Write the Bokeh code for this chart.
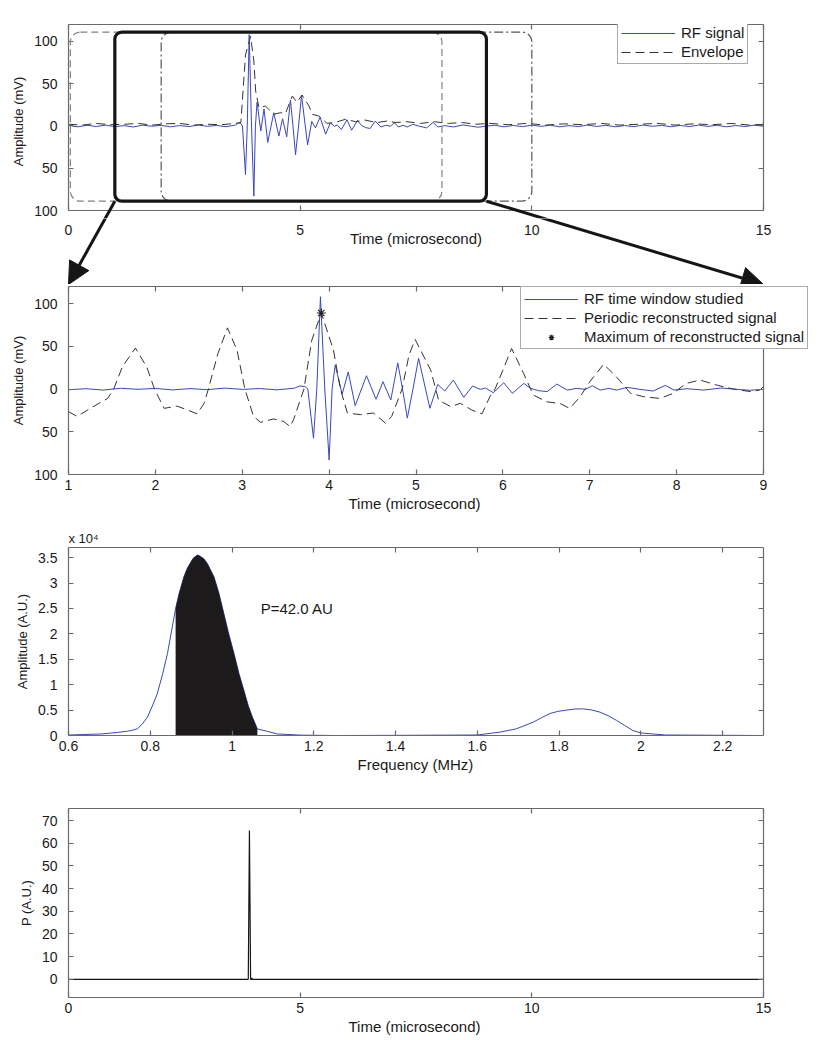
from bokeh.plotting import figure
from bokeh.layouts import column
from bokeh.models import (BoxAnnotation, Arrow, NormalHead, Legend, LegendItem,
                          LinearAxis, FixedTicker, Label, Range1d, Title)
from bokeh.embed import file_html
from bokeh.resources import INLINE

# ---------------- data ----------------
# RF signal (time in microseconds, amplitude in mV)
rf_t = [0.0, 0.2, 0.4, 0.6, 0.8, 1.0, 1.2, 1.4, 1.6, 1.8, 2.0, 2.2, 2.4, 2.6, 2.8, 3.0, 3.2, 3.4,
        3.6, 3.66, 3.72, 3.755, 3.82, 3.858, 3.90, 3.95, 4.00, 4.034,
        4.07, 4.15, 4.22, 4.30, 4.43, 4.54, 4.62, 4.71, 4.79, 4.845,
        4.90, 4.965, 5.03, 5.16, 5.25, 5.33, 5.43, 5.55, 5.65, 5.74,
        5.80, 5.89, 6.01, 6.11, 6.24, 6.32, 6.41, 6.51, 6.62, 6.74,
        6.85, 6.95, 7.03, 7.12, 7.22, 7.31, 7.43, 7.58, 7.73, 7.87,
        7.97, 8.12, 8.31, 8.51, 8.70, 8.85, 8.98,
        9.2, 9.4, 9.6, 9.8, 10.0, 10.2, 10.4, 10.6, 10.8, 11.0, 11.2, 11.4, 11.6, 11.8, 12.0,
        12.2, 12.4, 12.6, 12.8, 13.0, 13.2, 13.4, 13.6, 13.8, 14.0, 14.2, 14.4, 14.6, 14.8, 15.0]
rf_a = [0.5, -1, 0.8, -0.6, 1, -0.8, 0.4, -1.2, 0.9, -0.3, 0.7, -1, 0.5, -0.7, 1.1, -0.4, 0.6, -0.9,
        1.0, 3.5, 3, 0, -57.6, 0, 108, 0, -83, 0,
        28, -6, 20, -19.5, 15.6, -12, 8.6, -12.8, 30.7, 0,
        -34, 0, 36, -22.5, 5.4, -2.3, 10.5, -9.7, 3.5, -0.4,
        1.2, -4.3, 7.4, -5, 6.6, 0.8, -1.9, -3, 5.8, -1.2,
        0.8, -0.4, 3.9, -1.2, 0.8, -1.2, 1.9, -0.4, -2.3, 4.3,
        -1.2, 0.4, -1.2, 1.2, -0.4, -1.5, -0.4,
        0.8, -1, 0.6, -0.8, 1, -0.5, 0.9, -1, 0.4, -0.7, 1, -0.6, 0.8, -1, 0.5,
        -0.8, 1, -0.4, 0.7, -0.9, 0.6, -0.7, 1, -0.5, 0.8, -1, 0.5, -0.6, 0.9, -0.3]

# Envelope of the RF signal
env_t = [0, 0.3, 0.6, 0.9, 1.2, 1.5, 1.8, 2.1, 2.4, 2.7, 3.0, 3.3, 3.6, 3.72, 3.82, 3.93, 4.00,
         4.04, 4.11, 4.25, 4.43, 4.58, 4.68, 4.83, 4.93, 5.04, 5.19, 5.26, 5.40, 5.58, 5.75,
         5.98, 6.2, 6.4, 6.65, 6.9, 7.05, 7.3, 7.6, 7.9, 8.2, 8.5, 8.8, 9.1, 9.5, 9.9, 10.3,
         10.7, 11.1, 11.5, 11.9, 12.3, 12.7, 13.1, 13.5, 13.9, 14.3, 14.7, 15]
env_a = [2, 1, 3, 1.5, 2, 3, 1, 2.5, 3, 1, 2, 1.5, 3, 4, 84, 106, 77,
         41, 21.7, 23.6, 13.8, 15.7, 14.5, 35.4, 28, 36.6, 23.6, 13.8, 11.8, 3.1, 4,
         8, 5, 7, 4, 6, 4, 5, 3, 5, 3, 4, 2, 3, 1.5, 3, 1,
         2.5, 1.5, 3, 1, 2, 3, 1, 2.5, 1.5, 3, 1, 2]

# Sliding time windows (microseconds) and their vertical extent (mV)
win_left = [0.04, 1.0, 2.0]
win_right = [8.06, 9.02, 10.0]
win_top = 111
win_bottom = -89
studied = (1, 9)

# Periodic reconstructed signal
per_t = [1.0, 1.10, 1.25, 1.45, 1.52, 1.62, 1.77, 1.90, 1.99, 2.10,
         2.25, 2.37, 2.48, 2.56, 2.61, 2.72, 2.83, 2.94, 3.03, 3.13,
         3.21, 3.36, 3.48, 3.55, 3.59, 3.71, 3.80, 3.91, 4.05, 4.13,
         4.21, 4.36, 4.51, 4.65, 4.72, 4.84, 4.92, 4.99, 5.17, 5.26,
         5.40, 5.51, 5.64, 5.76, 5.85, 5.91, 6.00, 6.10, 6.24, 6.35,
         6.51, 6.66, 6.77, 6.89, 7.00, 7.16, 7.31, 7.47, 7.62, 7.81,
         7.96, 8.11, 8.27, 8.46, 8.65, 8.85, 8.96, 9.0]
per_a = [-26.5, -32, -22.6, -11, 0, 26, 48, 26, 0, -22.6,
         -20, -24.5, -29, -17, 0, 41.6, 71.6, 45.5, 0, -32,
         -39, -35, -38, -44, -36, 0, 57, 89, 45.5, 0,
         -28, -30, -28, -40, -32, 0, 40, 58, 22, -13,
         -20.6, -16.7, -24.5, -29, -9, 0, 22, 47.5, 18, -7,
         -15, -17, -22.6, -9, 8.5, 29, 14, -5, -9, -11,
         -5, 6.6, 10.5, 4.7, 0, -3, -1, 3]
max_t = [3.91]
max_a = [89]

# Spectrum (frequency MHz, amplitude in units of 1e4 A.U.)
spec_f = [0.6, 0.68, 0.72, 0.744, 0.755, 0.768, 0.78, 0.793, 0.805, 0.817,
          0.83, 0.842, 0.862, 0.87, 0.882, 0.89, 0.899, 0.905, 0.915, 0.92,
          0.931, 0.94, 0.956, 0.968, 0.98, 0.992, 1.005, 1.017, 1.029, 1.04,
          1.05, 1.062, 1.087, 1.111, 1.17, 1.25, 1.4, 1.6, 1.655, 1.695,
          1.736, 1.757, 1.777, 1.797, 1.818, 1.837, 1.857, 1.878, 1.9, 1.92,
          1.94, 1.96, 1.98, 2.0, 2.06, 2.3]
spec_a = [0.01, 0.03, 0.06, 0.085, 0.1, 0.13, 0.22, 0.36, 0.58, 0.82,
          1.2, 1.61, 2.5, 2.78, 3.12, 3.28, 3.41, 3.49, 3.55, 3.54,
          3.48, 3.38, 3.12, 2.8, 2.4, 2.0, 1.61, 1.22, 0.89, 0.58,
          0.36, 0.13, 0.08, 0.03, 0.007, 0.0, 0.003, 0.01, 0.066, 0.13,
          0.26, 0.35, 0.43, 0.475, 0.5, 0.52, 0.525, 0.505, 0.46, 0.39,
          0.3, 0.2, 0.1, 0.05, 0.01, 0.0]
band = (0.862, 1.062)
p_text = "P=42.0 AU"
p_text_pos = (1.07, 2.5)

# P over time
p_t = [0, 3.88, 3.905, 3.93, 3.95, 3.96, 3.97, 15]
p_v = [0, 0, 65.6, 0, 0, 0.6, 0, 0]

# ticks
t_ticks = [0, 5, 10, 15]
mv_ticks = [-100, -50, 0, 50, 100]
mv_labels = ["100", "50", "0", "50", "100"]
tw_ticks = [1, 2, 3, 4, 5, 6, 7, 8, 9]
f_ticks = [0.6, 0.8, 1.0, 1.2, 1.4, 1.6, 1.8, 2.0, 2.2]
f_labels = ["0.6", "0.8", "1", "1.2", "1.4", "1.6", "1.8", "2", "2.2"]
s_ticks = [0, 0.5, 1.0, 1.5, 2.0, 2.5, 3.0, 3.5]
s_labels = ["0", "0.5", "1", "1.5", "2", "2.5", "3", "3.5"]
pv_ticks = [0, 10, 20, 30, 40, 50, 60, 70]

# ---------------- style / geometry ----------------
FONT = "Liberation Sans"
GRAY = "#6a6a6a"
TXT = "#1a1a1a"
BLUE = "#3a48b8"
DARK = "#151515"
W = 820
FL, FR = 63, 818        # frame left / right (px)
BXL, BXR = 68, 763      # panel box left / right (px)


def x_range_for(x0, x1):
    k = (BXR - BXL) / (x1 - x0)
    return Range1d(x0 - (BXL - FL) / k, x1 + (FR - BXR) / k)


def tick_axis(ticks, **kw):
    return LinearAxis(ticker=FixedTicker(ticks=ticks), major_label_text_font_size="0px",
                      major_label_overrides={t: "" for t in ticks},
                      major_label_standoff=0, major_tick_in=5, major_tick_out=0,
                      minor_tick_line_color=None, axis_line_color=GRAY, axis_line_width=1.2,
                      major_tick_line_color=GRAY, major_tick_line_width=1.2, **kw)


def label_axis(ax, ticks, labels, standoff):
    ax.ticker = FixedTicker(ticks=ticks)
    if labels is not None:
        ax.major_label_overrides = {k: v for k, v in zip(ticks, labels)}
    ax.minor_tick_line_color = None
    ax.major_label_text_font = FONT
    ax.major_label_text_font_size = "14px"
    ax.major_label_text_color = TXT
    ax.major_label_standoff = standoff


def panel(h, top, bottom, xlim, ylim, yrange, xticks, xlabels, yticks, ylabels, ytitle,
          xtitle=None, xtitle_offset=285):
    p = figure(width=W, height=h, output_backend="svg", toolbar_location=None,
               x_range=x_range_for(*xlim), y_range=yrange,
               min_border_left=FL, min_border_right=W - FR,
               min_border_top=top, min_border_bottom=bottom)
    p.grid.visible = False
    p.outline_line_color = None
    p.background_fill_color = "white"
    p.border_fill_color = "white"
    yl = p.left[0]
    xb = p.below[0]
    # left: labels only, at the frame edge
    label_axis(yl, yticks, ylabels, 0)
    yl.axis_line_color = None
    yl.major_tick_line_color = None
    yl.axis_label = ytitle
    yl.axis_label_text_font = FONT
    yl.axis_label_text_font_size = "13px"
    yl.axis_label_text_font_style = "normal"
    yl.axis_label_text_color = TXT
    yl.axis_label_standoff = 5
    # bottom
    if xtitle is None:
        xb.visible = False
    else:
        label_axis(xb, xticks, xlabels, 5)
        xb.bounds = xlim
        xb.axis_line_color = GRAY
        xb.axis_line_width = 1.2
        xb.major_tick_line_color = GRAY
        xb.major_tick_line_width = 1.2
        xb.major_tick_in = 5
        xb.major_tick_out = 0
    # box edges with inward ticks
    p.add_layout(tick_axis(xticks, bounds=xlim), "above")
    p.add_layout(tick_axis(yticks, bounds=ylim, fixed_location=xlim[0]), "left")
    p.add_layout(tick_axis(yticks, bounds=ylim, fixed_location=xlim[1]), "right")
    if xtitle is None:
        p.add_layout(tick_axis(xticks, bounds=xlim, fixed_location=ylim[0]), "below")
    else:
        p.add_layout(Title(text=xtitle, align="left", offset=xtitle_offset, standoff=0,
                           text_font=FONT, text_font_size="15px", text_font_style="normal",
                           text_color=TXT), "below")
    return p


def style_legend(leg, loc):
    leg.location = loc
    leg.label_text_font = FONT
    leg.label_text_font_size = "15px"
    leg.label_text_color = TXT
    leg.glyph_width = 54
    leg.glyph_height = 14
    leg.label_height = 14
    leg.spacing = 2
    leg.padding = 3
    leg.margin = 0
    leg.label_standoff = 6
    leg.border_line_color = "#555555"
    leg.border_line_width = 1.2
    leg.background_fill_alpha = 1


# ---------------- panel 1 ----------------
T1, BOX1, EXT1 = 24, 186, 8          # box top, box height, frame extension below box (px)
y1 = (-100, 120)
k1 = BOX1 / (y1[1] - y1[0])          # px per mV
y1_frame_bottom = y1[0] - EXT1 / k1
p1 = panel(T1 + BOX1 + EXT1, T1, 0, (0, 15), y1, Range1d(y1_frame_bottom, y1[1]),
           t_ticks, None, mv_ticks, mv_labels, "Amplitude (mV)")
r_rf = p1.line(rf_t, rf_a, line_color=BLUE, line_width=1)
r_env = p1.line(env_t, env_a, line_color="#333333", line_width=1, line_dash="9 5")

p1.add_layout(BoxAnnotation(left=win_left[0], right=win_right[0], top=win_top, bottom=win_bottom,
                            fill_color=None, fill_alpha=0, line_color="#808080", line_alpha=1,
                            line_width=1.2, line_dash="7 4", border_radius=10))
p1.add_layout(BoxAnnotation(left=win_left[2], right=win_right[2], top=win_top, bottom=win_bottom,
                            fill_color=None, fill_alpha=0, line_color="#555555", line_alpha=1,
                            line_width=1.2, line_dash="9 3 2 3", border_radius=10))
p1.add_layout(BoxAnnotation(left=win_left[1], right=win_right[1], top=win_top, bottom=win_bottom,
                            fill_color=None, fill_alpha=0, line_color=DARK, line_alpha=1,
                            line_width=3.2, border_radius=7))

leg1 = Legend(items=[LegendItem(label="RF signal", renderers=[r_rf]),
                     LegendItem(label="Envelope", renderers=[r_env])])
style_legend(leg1, (617 - FL, T1 + BOX1 + EXT1 - 64))
p1.add_layout(leg1)

# ---------------- connector strip: time axis of panel 1 + zoom arrows ----------------
HM = 284 - (T1 + BOX1 + EXT1)
m_top = y1_frame_bottom
m_bot = m_top - HM / k1
pm = figure(width=W, height=HM, output_backend="svg", toolbar_location=None,
            x_range=p1.x_range, y_range=Range1d(m_bot, m_top),
            min_border_left=FL, min_border_right=W - FR, min_border_top=0, min_border_bottom=0)
pm.grid.visible = False
pm.outline_line_color = None
pm.left[0].visible = False
xm = pm.below[0]
label_axis(xm, t_ticks, None, 0)
xm.fixed_location = m_top
xm.axis_line_color = None
xm.major_tick_line_color = None
pm.add_layout(Label(x=sum(t_ticks[::3]) / 2, y=y1[0] - 28 / k1, text="Time (microsecond)",
                    text_align="center", text_baseline="middle", text_font=FONT,
                    text_font_size="15px", text_color=TXT))

for fig in (p1, pm):
    for xs, xe in ((win_left[1], t_ticks[0]), (win_right[1], t_ticks[-1])):
        head = NormalHead(size=22, fill_color=DARK, line_color=DARK) if fig is pm else None
        fig.add_layout(Arrow(end=head, x_start=xs, y_start=win_bottom, x_end=xe, y_end=m_bot,
                             line_color=DARK, line_width=3))

# ---------------- panel 2 ----------------
p2 = panel(236, 2, 46, studied, (-100, 120), Range1d(-100, 120),
           tw_ticks, None, mv_ticks, mv_labels, "Amplitude (mV)", "Time (microsecond)", 285)
win_rf = [(t, a) for t, a in zip(rf_t, rf_a) if studied[0] <= t <= studied[1]]
r_rf2 = p2.line([t for t, _ in win_rf], [a for _, a in win_rf], line_color=BLUE, line_width=1)
r_per = p2.line(per_t, per_a, line_color="#333333", line_width=1, line_dash="9 5")
r_max = p2.scatter(max_t, max_a, marker="asterisk", size=9, line_color="#222222", line_width=1.2)
leg2 = Legend(items=[LegendItem(label="RF time window studied", renderers=[r_rf2]),
                     LegendItem(label="Periodic reconstructed signal", renderers=[r_per]),
                     LegendItem(label="Maximum of reconstructed signal", renderers=[r_max])])
style_legend(leg2, (520 - FL, 474 - 349))
p2.add_layout(leg2)

# ---------------- panel 3 ----------------
p3 = panel(260, 27, 45, (0.6, 2.3), (0, 3.7), Range1d(0, 3.7),
           f_ticks, f_labels, s_ticks, s_labels, "Amplitude (A.U.)", "Frequency (MHz)", 294)
p3.line(spec_f, spec_a, line_color=BLUE, line_width=1)
fill_f = [f for f in spec_f if band[0] <= f <= band[1]]
fill_a = [a for f, a in zip(spec_f, spec_a) if band[0] <= f <= band[1]]
p3.varea(x=fill_f, y1=[0] * len(fill_f), y2=fill_a, fill_color="#1c1a1a")
p3.add_layout(Title(text="x 10\u2074", align="left", offset=BXL - FL, standoff=3, text_font=FONT,
                    text_font_size="13px", text_font_style="normal", text_color=TXT), "above")
p3.add_layout(Label(x=p_text_pos[0], y=p_text_pos[1], text=p_text, text_font=FONT,
                    text_font_size="15px", text_color=TXT, text_baseline="middle"))

# ---------------- panel 4 ----------------
p4 = panel(258, 28, 41, (0, 15), (-8, 75.3), Range1d(-8, 75.3),
           t_ticks, None, pv_ticks, None, "P (A.U.)", "Time (microsecond)", 285)
p4.line(p_t, p_v, line_color=DARK, line_width=1.2)

layout = column(p1, pm, p2, p3, p4, spacing=0)
open("out.html", "w").write(file_html(layout, INLINE))
